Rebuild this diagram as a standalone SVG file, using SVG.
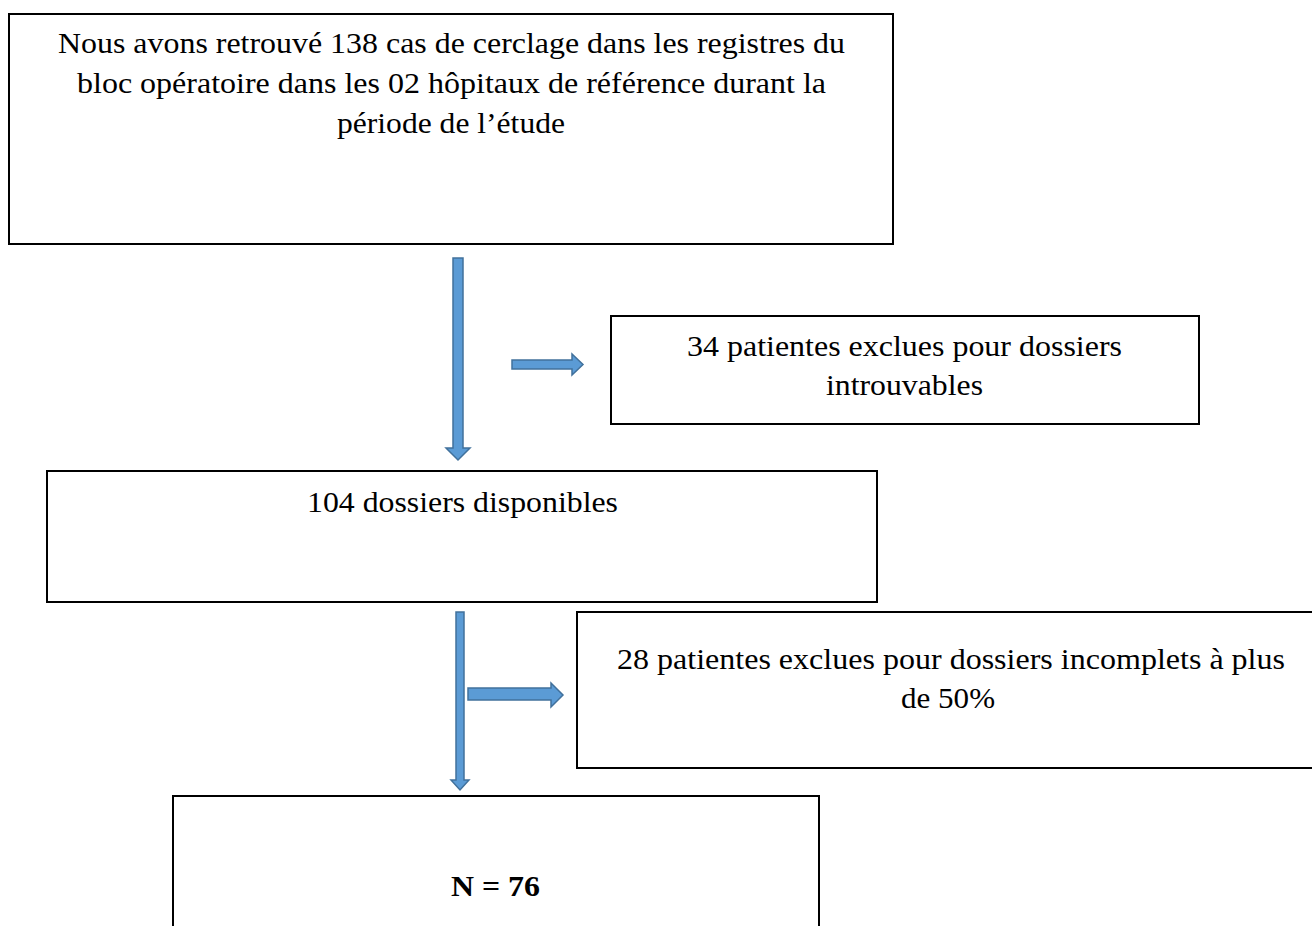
<svg xmlns="http://www.w3.org/2000/svg" width="1312" height="926" viewBox="0 0 1312 926">
<style>
.box{fill:#fff;stroke:#000;stroke-width:2}
.t{font-family:"Liberation Serif","Times New Roman",serif;font-size:29px;fill:#000;text-anchor:middle}
.b{font-weight:bold}
.arr{fill:#5B9BD5;stroke:#41719C;stroke-width:1.5}
</style>
<rect width="1312" height="926" fill="#fff"/>
<g id="n1">
<rect class="box" x="9" y="14" width="884" height="230"/>
<text class="t" x="451.5" y="53" textLength="787" lengthAdjust="spacingAndGlyphs">Nous avons retrouvé 138 cas de cerclage dans les registres du</text>
<text class="t" x="451.5" y="93" textLength="749" lengthAdjust="spacingAndGlyphs">bloc opératoire dans les 02 hôpitaux de référence durant la</text>
<text class="t" x="451" y="133" textLength="228" lengthAdjust="spacingAndGlyphs">période de l’étude</text>
</g>
<g id="n2">
<rect class="box" x="611" y="316" width="588" height="108"/>
<text class="t" x="904.5" y="356" textLength="435" lengthAdjust="spacingAndGlyphs">34 patientes exclues pour dossiers</text>
<text class="t" x="904.5" y="395" textLength="157" lengthAdjust="spacingAndGlyphs">introuvables</text>
</g>
<g id="n3">
<rect class="box" x="47" y="471" width="830" height="131"/>
<text class="t" x="462.5" y="512" textLength="311" lengthAdjust="spacingAndGlyphs">104 dossiers disponibles</text>
</g>
<g id="n4">
<rect class="box" x="577" y="612" width="748" height="156"/>
<text class="t" x="951" y="669" textLength="668" lengthAdjust="spacingAndGlyphs">28 patientes exclues pour dossiers incomplets à plus</text>
<text class="t" x="948" y="708" textLength="94" lengthAdjust="spacingAndGlyphs">de 50%</text>
</g>
<g id="n5">
<rect class="box" x="173" y="796" width="646" height="140"/>
<text class="t b" x="495.5" y="896" textLength="89" lengthAdjust="spacingAndGlyphs">N = 76</text>
</g>
<g id="connectors">
<polygon class="arr" points="453,258 463,258 463,448 470,448 458,460 446,448 453,448"/>
<polygon class="arr" points="512,360 572,360 572,354 583,364.5 572,375 572,369 512,369"/>
<polygon class="arr" points="456,612 464,612 464,780 469,780 460,790 451,780 456,780"/>
<polygon class="arr" points="468,688 551,688 551,683 563,695 551,707 551,700 468,700"/>
</g>
</svg>
